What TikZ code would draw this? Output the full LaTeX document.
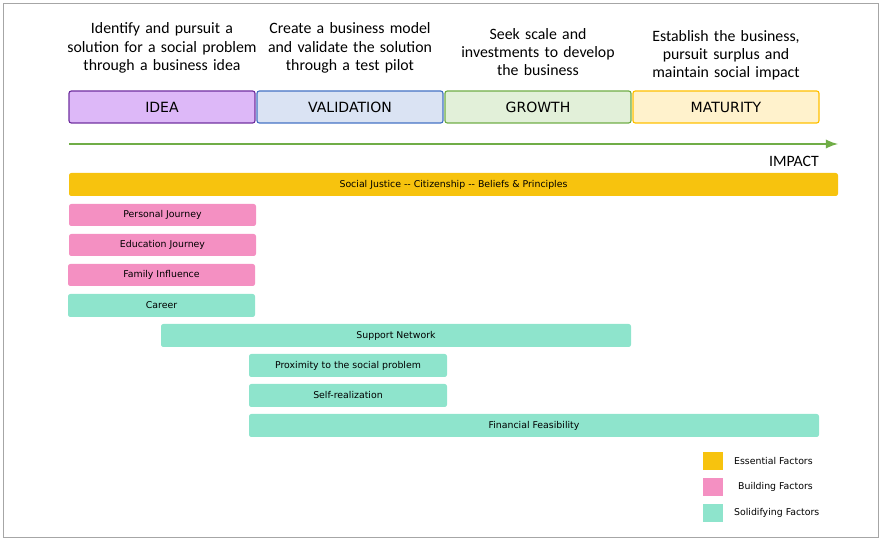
\documentclass[tikz,border=0pt]{standalone}
\usepackage{fontspec}
\setmainfont{Carlito}
\newfontfamily\verd{DejaVu Sans}
\usetikzlibrary{positioning}
\definecolor{ideafill}{HTML}{DDB8F8}
\definecolor{ideadraw}{HTML}{7030A0}
\definecolor{valfill}{HTML}{DAE3F3}
\definecolor{valdraw}{HTML}{4472C4}
\definecolor{grofill}{HTML}{E2F0D9}
\definecolor{grodraw}{HTML}{70AD47}
\definecolor{matfill}{HTML}{FFF2CC}
\definecolor{matdraw}{HTML}{FFC000}
\definecolor{essential}{HTML}{F7C30E}
\definecolor{building}{HTML}{F490C2}
\definecolor{solidcol}{HTML}{8EE4CC}
\begin{document}
\begin{tikzpicture}[x=0.03cm,y=-0.03cm,
  stagebox/.style={draw,line width=1pt,rounded corners=2pt,font=\verd\large},
  bar/.style={rounded corners=2pt,font=\verd\footnotesize},
  head/.style={align=center,font=\fontsize{13.5}{15.5}\selectfont,text width=6cm},
  legbox/.style={minimum width=0.6cm,minimum height=0.54cm,inner sep=0pt},
  legtext/.style={anchor=west,font=\verd\footnotesize},
]
\useasboundingbox (0,0) rectangle (882,540);
\draw[gray!70] (3,3) rectangle (878,537);

% header texts
\node[head] (h1) at (162,48) {Identify and pursuit a\\solution for a social problem\\through a business idea};
\node[head] (h2) at (350,48) {Create a business model\\and validate the solution\\through a test pilot};
\node[head] (h3) at (538,52) {Seek scale and\\investments to develop\\the business};
\node[head] (h4) at (726,55) {Establish the business,\\pursuit surplus and\\maintain social impact};

% stages
\draw[stagebox,draw=ideadraw,fill=ideafill] (69,91) rectangle node (idea) {IDEA} (255,123);
\draw[stagebox,draw=valdraw,fill=valfill] (257,91) rectangle node (val) {VALIDATION} (443,123);
\draw[stagebox,draw=grodraw,fill=grofill] (445,91) rectangle node (gro) {GROWTH} (631,123);
\draw[stagebox,draw=matdraw,fill=matfill] (633,91) rectangle node (mat) {MATURITY} (819,123);

% impact arrow
\coordinate (a0) at (69,144);
\coordinate (a1) at (838,144);
\draw[grodraw,line width=2.5pt,-latex] (a0) -- (a1);
\node[font=\fontsize{13.5}{15}\selectfont,anchor=east] (impact) at (823,161) {IMPACT};

% factors
\fill[bar,fill=essential] (69,173) rectangle node (sj) {Social Justice -- Citizenship -- Beliefs \& Principles} (838,196);
\fill[bar,fill=building] (69,204) rectangle node (pj) {Personal Journey} (256,226);
\fill[bar,fill=building] (69,234) rectangle node (ej) {Education Journey} (256,256);
\fill[bar,fill=building] (68,264) rectangle node (fi) {Family Influence} (255,286);
\fill[bar,fill=solidcol] (68,294) rectangle node (car) {Career} (255,317);
\fill[bar,fill=solidcol] (161,324) rectangle node (sn) {Support Network} (631,347);
\fill[bar,fill=solidcol] (249,354) rectangle node (prox) {Proximity to the social problem} (447,377);
\fill[bar,fill=solidcol] (249,384) rectangle node (self) {Self-realization} (447,407);
\fill[bar,fill=solidcol] (249,414) rectangle node (fin) {Financial Feasibility} (819,437);

% legend
\node[legbox,fill=essential] (l1) at (713,461) {};
\node[legbox,fill=building] (l2) at (713,487) {};
\node[legbox,fill=solidcol] (l3) at (713,513) {};
\node[legtext] at (730,461) {Essential Factors};
\node[legtext] at (734,487) {Building Factors};
\node[legtext] at (730,513) {Solidifying Factors};
\end{tikzpicture}
\end{document}
